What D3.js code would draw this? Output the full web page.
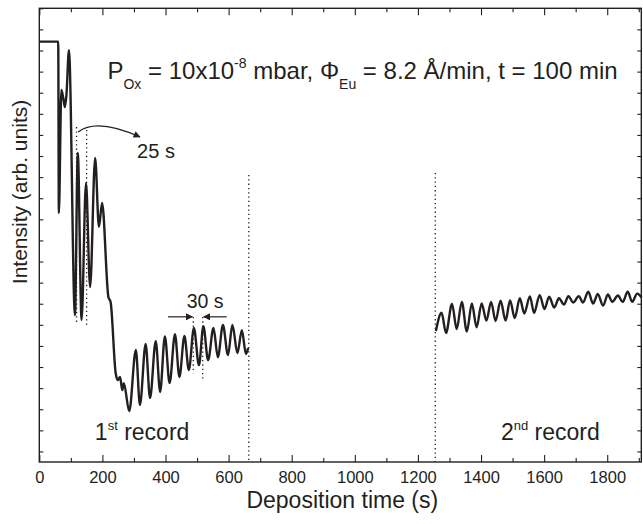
<!DOCTYPE html>
<html>
<head>
<meta charset="utf-8">
<script src="https://cdn.jsdelivr.net/npm/d3@7"></script>
<style>
    body { margin: 0; background: #fff; }
    text { font-family: "Liberation Sans", Arial, sans-serif; fill: #231f20; }
</style>
</head>
<body>
<div id="chart"></div>
<script>
// Deposition time (s) vs intensity (arb. units).
var firstRecord = [
    [0, 20.42], [60, 20.42], [62, 12.30], [70, 18.13], [77, 17.65], [81, 17.32], [86, 17.89],
    [94, 20.02], [113, 7.46], [122, 15.14], [134, 7.23], [148, 13.72], [161, 8.79], [177, 14.91],
    [189, 11.64], [199, 12.77], [219, 8.32], [226, 8.08], [242, 4.72], [249, 4.38], [256, 4.53],
    [263, 3.91], [268, 4.24], [285, 2.91], [306, 5.81], [319, 3.20], [337, 6.09], [351, 3.53],
    [369, 6.23], [383, 3.82], [398, 6.45], [413, 4.24], [430, 6.56], [444, 4.53], [460, 6.47],
    [474, 4.86], [490, 6.85], [506, 5.09], [520, 6.94], [535, 5.33], [552, 6.85], [566, 5.47],
    [582, 6.99], [598, 5.57], [612, 6.99], [628, 5.66], [642, 6.75], [655, 5.62], [662, 5.90]
];
var secondRecord = [
    [1257, 6.71], [1275, 7.57], [1289, 6.61], [1308, 7.99], [1323, 6.80], [1339, 8.09],
    [1355, 6.68], [1371, 8.01], [1386, 6.88], [1402, 8.01], [1417, 7.20], [1432, 8.09],
    [1446, 7.18], [1462, 8.14], [1478, 7.20], [1492, 8.16], [1507, 7.32], [1523, 8.26],
    [1537, 7.54], [1555, 8.35], [1568, 7.57], [1586, 8.41], [1601, 7.75], [1616, 8.33],
    [1632, 7.82], [1647, 8.26], [1663, 7.96], [1677, 8.36], [1692, 8.06], [1710, 8.36],
    [1723, 8.06], [1740, 8.57], [1755, 8.01], [1770, 8.46], [1787, 7.91], [1802, 8.44],
    [1816, 8.09], [1834, 8.39], [1849, 8.09], [1865, 8.57], [1879, 8.09], [1895, 8.48],
    [1909, 8.29]
];
var xMajorTicks = [0, 200, 400, 600, 800, 1000, 1200, 1400, 1600, 1800];
var xMinorTicks = [100, 300, 500, 700, 900, 1100, 1300, 1500, 1700, 1900];
var yTicks = d3.range(1, 23);

// dotted markers: [time, top, bottom]
var recordBreaks = [[664, 14.1, 0.5], [1255, 14.2, 0.5]];
var period25 = [[118, 16.37, 7.08], [150, 16.23, 6.99]];
var period30 = [[488, 7.37, 4.71], [518, 7.37, 4.38]];
var arrows30 = [[[408, 7.38], [485, 7.38]], [[594, 7.38], [521, 7.38]]];
var curvedArrow = [[123, 16.14], [183, 16.82], [319, 15.90]];

var width = 643, height = 524;
var margin = { top: 8.3, right: 1.7, bottom: 62, left: 39.3 };
var ink = "#231f20";

var svg = d3.select("#chart")
    .append("svg")
    .attr("width", width)
    .attr("height", height);

var x = d3.scaleLinear()
    .domain([0, 1908])
    .range([margin.left, width - margin.right]);
var y = d3.scaleLinear()
    .domain([0.5, 22])
    .range([height - margin.bottom, margin.top]);

var defs = svg.append("defs");
defs.append("marker")
    .attr("id", "head")
    .attr("viewBox", "0 0 10 10")
    .attr("refX", 9).attr("refY", 5)
    .attr("markerWidth", 10).attr("markerHeight", 7)
    .attr("markerUnits", "userSpaceOnUse")
    .attr("orient", "auto")
    .append("path")
    .attr("d", "M0,0 L10,5 L0,10 Z")
    .attr("fill", ink);

// axes, ticks pointing inwards
function styleAxis(g) {
    g.select(".domain").remove();
    g.selectAll("line").attr("stroke", ink).attr("stroke-width", 1.1);
}
svg.append("g")
    .attr("transform", "translate(0," + y.range()[0] + ")")
    .call(d3.axisBottom(x).tickValues(xMajorTicks).tickSize(-7).tickPadding(9).tickFormat(d3.format("d")))
    .call(styleAxis)
    .call(g => g.selectAll("text").attr("font-size", 16.5).attr("fill", ink)
        .style("font-family", "'Liberation Sans', Arial, sans-serif"));
svg.append("g")
    .attr("transform", "translate(0," + y.range()[0] + ")")
    .call(d3.axisBottom(x).tickValues(xMinorTicks).tickSize(-4).tickFormat(""))
    .call(styleAxis);
svg.append("g")
    .attr("transform", "translate(0," + margin.top + ")")
    .call(d3.axisTop(x).tickValues(xMajorTicks).tickSize(-7).tickFormat(""))
    .call(styleAxis);
svg.append("g")
    .attr("transform", "translate(0," + margin.top + ")")
    .call(d3.axisTop(x).tickValues(xMinorTicks).tickSize(-4).tickFormat(""))
    .call(styleAxis);
svg.append("g")
    .attr("transform", "translate(" + margin.left + ",0)")
    .call(d3.axisLeft(y).tickValues(yTicks).tickSize(-4).tickFormat(""))
    .call(styleAxis);
svg.append("g")
    .attr("transform", "translate(" + x.range()[1] + ",0)")
    .call(d3.axisRight(y).tickValues(yTicks).tickSize(-4).tickFormat(""))
    .call(styleAxis);

svg.append("rect")
    .attr("x", x.range()[0]).attr("y", y.range()[1])
    .attr("width", x.range()[1] - x.range()[0])
    .attr("height", y.range()[0] - y.range()[1])
    .attr("fill", "none")
    .attr("stroke", ink)
    .attr("stroke-width", 1.4);

// dotted guides
function dotted(list) {
    svg.selectAll(null)
        .data(list)
        .enter()
        .append("line")
        .attr("x1", d => x(d[0])).attr("x2", d => x(d[0]))
        .attr("y1", d => y(d[1])).attr("y2", d => y(d[2]))
        .attr("stroke", ink)
        .attr("stroke-width", 1.3)
        .attr("stroke-dasharray", "1.3,3");
}
dotted(recordBreaks);
dotted(period25);
dotted(period30);

var line = d3.line()
    .x(d => x(d[0]))
    .y(d => y(d[1]))
    .curve(d3.curveMonotoneX);

[firstRecord, secondRecord].forEach(rec => {
    svg.append("path")
        .attr("d", line(rec))
        .attr("fill", "none")
        .attr("stroke", ink)
        .attr("stroke-width", 2.4)
        .attr("stroke-linejoin", "round");
});

// arrows
svg.selectAll(null)
    .data(arrows30)
    .enter()
    .append("line")
    .attr("x1", d => x(d[0][0])).attr("y1", d => y(d[0][1]))
    .attr("x2", d => x(d[1][0])).attr("y2", d => y(d[1][1]))
    .attr("stroke", ink)
    .attr("stroke-width", 1.2)
    .attr("marker-end", "url(#head)");

var c = curvedArrow.map(p => [x(p[0]), y(p[1])]);
svg.append("path")
    .attr("d", "M" + c[0] + " Q" + c[1] + " " + c[2])
    .attr("fill", "none")
    .attr("stroke", ink)
    .attr("stroke-width", 1.2)
    .attr("marker-end", "url(#head)");

// labels
function label(t, v, size) {
    return svg.append("text")
        .attr("x", x(t))
        .attr("y", y(v))
        .attr("font-size", size);
}
label(310, 14.91, 20).text("25 s");
label(467, 7.80, 19.5).text("30 s");

var r1 = label(176, 1.54, 23);
r1.append("tspan").text("1");
r1.append("tspan").attr("font-size", 13).attr("dy", -10).text("st");
r1.append("tspan").attr("dy", 10).text(" record");

var r2 = label(1463, 1.54, 23);
r2.append("tspan").text("2");
r2.append("tspan").attr("font-size", 13).attr("dy", -10).text("nd");
r2.append("tspan").attr("dy", 10).text(" record");

var cond = label(216, 18.67, 24);
cond.append("tspan").text("P");
cond.append("tspan").attr("font-size", 14).attr("dy", 10).text("Ox");
cond.append("tspan").attr("dy", -10).text(" = 10x10");
cond.append("tspan").attr("font-size", 14).attr("dy", -11).text("-8");
cond.append("tspan").attr("dy", 11).text(" mbar, \u03A6");
cond.append("tspan").attr("font-size", 14).attr("dy", 10).text("Eu");
cond.append("tspan").attr("dy", -10).text(" = 8.2 \u00C5/min, t = 100 min");

svg.append("text")
    .attr("x", (x.range()[0] + x.range()[1]) / 2 + 2)
    .attr("y", 508)
    .attr("text-anchor", "middle")
    .attr("font-size", 23)
    .text("Deposition time (s)");

svg.append("text")
    .attr("transform", "translate(" + 27 + "," + 192 + ")rotate(-90)")
    .attr("text-anchor", "middle")
    .attr("font-size", 21)
    .text("Intensity (arb. units)");
</script>
</body>
</html>
